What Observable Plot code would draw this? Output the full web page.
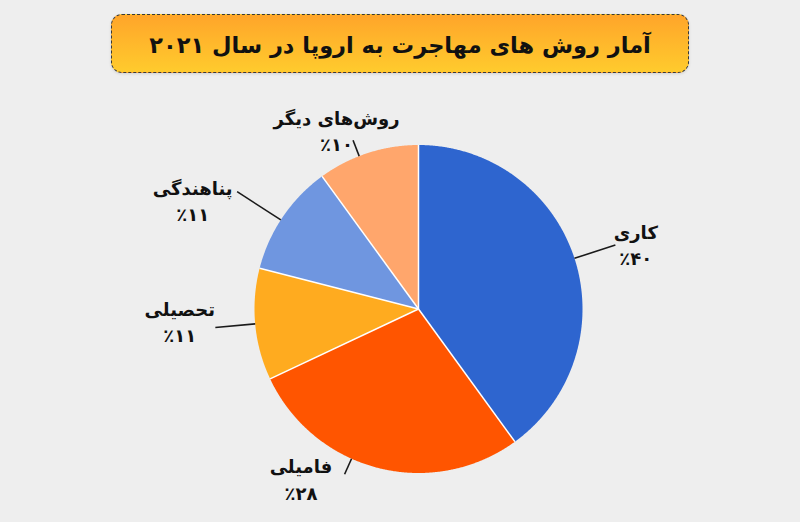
<!DOCTYPE html>
<html><head><meta charset="utf-8">
<script src="https://cdn.jsdelivr.net/npm/d3@7"></script>
<script src="https://cdn.jsdelivr.net/npm/@observablehq/plot@0.6"></script>
<style>
html,body{margin:0;padding:0;background:#eeeeee;width:800px;height:522px;overflow:hidden;font-family:"DejaVu Sans",sans-serif;}
#title{margin:14px 0 0 111px;width:578px;height:59px;box-sizing:border-box;border:1px dashed #3a3a3a;border-radius:11px;
  background:linear-gradient(#ffa52a,#ffcb2d);display:flex;align-items:center;justify-content:center;direction:rtl;
  font-weight:bold;font-size:22.5px;color:#111;box-shadow:0 1px 3px rgba(0,0,0,0.12);padding-top:2px;}
#chart{margin-top:12px;height:437px;}
</style></head><body>
<div id="title">آمار روش های مهاجرت به اروپا در سال ۲۰۲۱</div>
<div id="chart"></div>
<script>
// data
const categories = ["کاری", "فامیلی", "تحصیلی", "پناهندگی", "روش‌های دیگر"];
const shares = [40, 28, 11, 11, 10];
const colors = ["#2e65cf", "#ff5500", "#ffab1f", "#6f96e0", "#ffa66c"];

// label placement (annotation layout, relative to each slice's mid-angle)
const labelAngleShift = [1.2, 20.4, 2.6, -8.3, -6.6];   // degrees
const labelRadius = [227, 206, 239, 251, 197];
const leaderAngleShift = [0, 9.7, 0.2, -1.3, -3.2];
const leaderRadius = [207, 181, 204, 216, 181];

const W = 800, H = 437, R = 164, CX = 418, CY = 223.5;
const faDigits = s => String(s).replace(/\d/g, d => "۰۱۲۳۴۵۶۷۸۹"[d]);

const arcs = d3.pie().sort(null).value(d => d)(shares);
const deg = Math.PI / 180;

const slicePts = [];
arcs.forEach((a, i) => {
  const cat = categories[i];
  slicePts.push({cat, x: 0, y: 0});
  const n = Math.max(2, Math.ceil((a.endAngle - a.startAngle) / 0.005));
  for (let k = 0; k <= n; k++) {
    const t = a.startAngle + (a.endAngle - a.startAngle) * k / n;
    slicePts.push({cat, x: R * Math.sin(t), y: R * Math.cos(t)});
  }
  slicePts.push({cat, x: 0, y: 0});
});

const seps = arcs.map(a => ({x2: R * Math.sin(a.startAngle), y2: R * Math.cos(a.startAngle)}));

const labels = arcs.map((a, i) => {
  const mid = (a.startAngle + a.endAngle) / 2;
  const lt = mid + labelAngleShift[i] * deg;
  const ll = mid + leaderAngleShift[i] * deg;
  return {
    text: categories[i] + "\n" + "٪" + faDigits(shares[i]),
    x: labelRadius[i] * Math.sin(lt), y: labelRadius[i] * Math.cos(lt),
    x1: R * Math.sin(ll), y1: R * Math.cos(ll),
    x2: leaderRadius[i] * Math.sin(ll), y2: leaderRadius[i] * Math.cos(ll)
  };
});

const chart = Plot.plot({
  width: W, height: H, margin: 0,
  x: {domain: [-CX, W - CX], axis: null},
  y: {domain: [CY - H, CY], axis: null},
  color: {domain: categories, range: colors},
  style: {background: "transparent", fontFamily: "DejaVu Sans, sans-serif", overflow: "visible"},
  marks: [
    Plot.line(slicePts, {x: "x", y: "y", z: "cat", fill: "cat", stroke: null, curve: "linear"}),
    Plot.link(seps, {x1: 0, y1: 0, x2: "x2", y2: "y2", stroke: "#ffffff", strokeWidth: 1.5}),
    Plot.link(labels, {x1: "x1", y1: "y1", x2: "x2", y2: "y2", stroke: "#1a1a1a", strokeWidth: 1.6}),
    Plot.text(labels, {x: "x", y: "y", text: "text", fontSize: 18, fontWeight: "bold", lineHeight: 1.45,
      textAnchor: "middle", lineAnchor: "middle", fill: "#111"})
  ]
});
document.getElementById("chart").appendChild(chart);
</script>
</body></html>
